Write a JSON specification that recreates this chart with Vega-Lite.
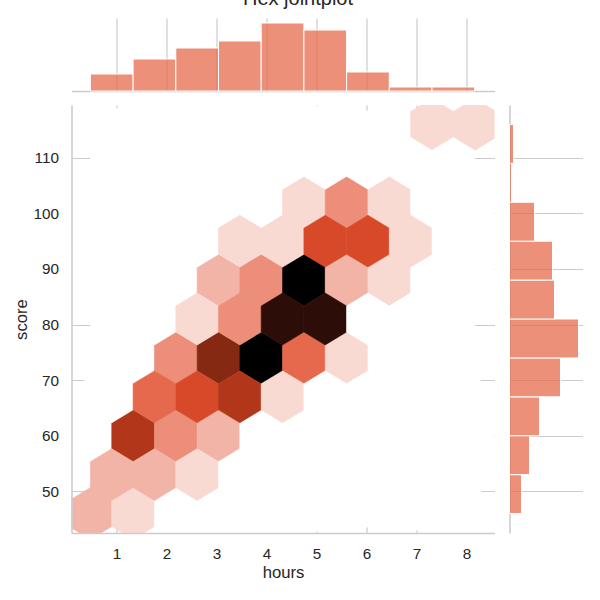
{
  "$schema": "https://vega.github.io/schema/vega-lite/v6.json",
  "padding": {"left": 12.5, "top": -11, "right": 0, "bottom": 0},
  "title": {"text": "Hex jointplot", "anchor": "middle", "frame": "bounds", "offset": 9},
  "columns": 2,
  "align": "each",
  "spacing": {"row": 13, "column": 14},
  "datasets": {
    "hexes": [
      {"hours": 0.478, "score": 46, "count": 2}, {"hours": 1.332, "score": 46, "count": 1}, {"hours": 2.186, "score": 46, "count": 0}, {"hours": 3.040, "score": 46, "count": 0}, {"hours": 3.894, "score": 46, "count": 0},
      {"hours": 4.748, "score": 46, "count": 0}, {"hours": 5.602, "score": 46, "count": 0}, {"hours": 6.456, "score": 46, "count": 0}, {"hours": 7.310, "score": 46, "count": 0}, {"hours": 8.164, "score": 46, "count": 0},
      {"hours": 0.478, "score": 60, "count": 0}, {"hours": 1.332, "score": 60, "count": 6}, {"hours": 2.186, "score": 60, "count": 3}, {"hours": 3.040, "score": 60, "count": 2}, {"hours": 3.894, "score": 60, "count": 0},
      {"hours": 4.748, "score": 60, "count": 0}, {"hours": 5.602, "score": 60, "count": 0}, {"hours": 6.456, "score": 60, "count": 0}, {"hours": 7.310, "score": 60, "count": 0}, {"hours": 8.164, "score": 60, "count": 0},
      {"hours": 0.478, "score": 74, "count": 0}, {"hours": 1.332, "score": 74, "count": 0}, {"hours": 2.186, "score": 74, "count": 3}, {"hours": 3.040, "score": 74, "count": 7}, {"hours": 3.894, "score": 74, "count": 10},
      {"hours": 4.748, "score": 74, "count": 4}, {"hours": 5.602, "score": 74, "count": 1}, {"hours": 6.456, "score": 74, "count": 0}, {"hours": 7.310, "score": 74, "count": 0}, {"hours": 8.164, "score": 74, "count": 0},
      {"hours": 0.478, "score": 88, "count": 0}, {"hours": 1.332, "score": 88, "count": 0}, {"hours": 2.186, "score": 88, "count": 0}, {"hours": 3.040, "score": 88, "count": 2}, {"hours": 3.894, "score": 88, "count": 3},
      {"hours": 4.748, "score": 88, "count": 10}, {"hours": 5.602, "score": 88, "count": 2}, {"hours": 6.456, "score": 88, "count": 1}, {"hours": 7.310, "score": 88, "count": 0}, {"hours": 8.164, "score": 88, "count": 0},
      {"hours": 0.478, "score": 102, "count": 0}, {"hours": 1.332, "score": 102, "count": 0}, {"hours": 2.186, "score": 102, "count": 0}, {"hours": 3.040, "score": 102, "count": 0}, {"hours": 3.894, "score": 102, "count": 0},
      {"hours": 4.748, "score": 102, "count": 1}, {"hours": 5.602, "score": 102, "count": 3}, {"hours": 6.456, "score": 102, "count": 1}, {"hours": 7.310, "score": 102, "count": 0}, {"hours": 8.164, "score": 102, "count": 0},
      {"hours": 0.478, "score": 116, "count": 0}, {"hours": 1.332, "score": 116, "count": 0}, {"hours": 2.186, "score": 116, "count": 0}, {"hours": 3.040, "score": 116, "count": 0}, {"hours": 3.894, "score": 116, "count": 0},
      {"hours": 4.748, "score": 116, "count": 0}, {"hours": 5.602, "score": 116, "count": 0}, {"hours": 6.456, "score": 116, "count": 0}, {"hours": 7.310, "score": 116, "count": 1}, {"hours": 8.164, "score": 116, "count": 1},
      {"hours": 0.905, "score": 53, "count": 2}, {"hours": 1.759, "score": 53, "count": 2}, {"hours": 2.613, "score": 53, "count": 1}, {"hours": 3.467, "score": 53, "count": 0}, {"hours": 4.321, "score": 53, "count": 0},
      {"hours": 5.175, "score": 53, "count": 0}, {"hours": 6.029, "score": 53, "count": 0}, {"hours": 6.883, "score": 53, "count": 0}, {"hours": 7.737, "score": 53, "count": 0},
      {"hours": 0.905, "score": 67, "count": 0}, {"hours": 1.759, "score": 67, "count": 4}, {"hours": 2.613, "score": 67, "count": 5}, {"hours": 3.467, "score": 67, "count": 6}, {"hours": 4.321, "score": 67, "count": 1},
      {"hours": 5.175, "score": 67, "count": 0}, {"hours": 6.029, "score": 67, "count": 0}, {"hours": 6.883, "score": 67, "count": 0}, {"hours": 7.737, "score": 67, "count": 0},
      {"hours": 0.905, "score": 81, "count": 0}, {"hours": 1.759, "score": 81, "count": 0}, {"hours": 2.613, "score": 81, "count": 1}, {"hours": 3.467, "score": 81, "count": 3}, {"hours": 4.321, "score": 81, "count": 9},
      {"hours": 5.175, "score": 81, "count": 9}, {"hours": 6.029, "score": 81, "count": 0}, {"hours": 6.883, "score": 81, "count": 0}, {"hours": 7.737, "score": 81, "count": 0},
      {"hours": 0.905, "score": 95, "count": 0}, {"hours": 1.759, "score": 95, "count": 0}, {"hours": 2.613, "score": 95, "count": 0}, {"hours": 3.467, "score": 95, "count": 1}, {"hours": 4.321, "score": 95, "count": 1},
      {"hours": 5.175, "score": 95, "count": 5}, {"hours": 6.029, "score": 95, "count": 5}, {"hours": 6.883, "score": 95, "count": 1}, {"hours": 7.737, "score": 95, "count": 0},
      {"hours": 0.905, "score": 109, "count": 0}, {"hours": 1.759, "score": 109, "count": 0}, {"hours": 2.613, "score": 109, "count": 0}, {"hours": 3.467, "score": 109, "count": 0}, {"hours": 4.321, "score": 109, "count": 0},
      {"hours": 5.175, "score": 109, "count": 0}, {"hours": 6.029, "score": 109, "count": 0}, {"hours": 6.883, "score": 109, "count": 0}, {"hours": 7.737, "score": 109, "count": 0}
    ],
    "xbins": [
      {"hours_start": 0.478, "hours_end": 1.332, "count": 17},
      {"hours_start": 1.332, "hours_end": 2.186, "count": 32},
      {"hours_start": 2.186, "hours_end": 3.040, "count": 43},
      {"hours_start": 3.040, "hours_end": 3.894, "count": 50},
      {"hours_start": 3.894, "hours_end": 4.748, "count": 68},
      {"hours_start": 4.748, "hours_end": 5.602, "count": 61},
      {"hours_start": 5.602, "hours_end": 6.456, "count": 19},
      {"hours_start": 6.456, "hours_end": 7.310, "count": 4},
      {"hours_start": 7.310, "hours_end": 8.164, "count": 4}
    ],
    "ybins": [
      {"score_start": 46, "score_end": 53, "count": 12},
      {"score_start": 53, "score_end": 60, "count": 20},
      {"score_start": 60, "score_end": 67, "count": 30},
      {"score_start": 67, "score_end": 74, "count": 51},
      {"score_start": 74, "score_end": 81, "count": 69},
      {"score_start": 81, "score_end": 88, "count": 45},
      {"score_start": 88, "score_end": 95, "count": 43},
      {"score_start": 95, "score_end": 102, "count": 25},
      {"score_start": 102, "score_end": 109, "count": 2},
      {"score_start": 109, "score_end": 116, "count": 4}
    ]
  },
  "concat": [
    {
      "width": 423,
      "height": 73,
      "data": {"name": "xbins"},
      "mark": {"type": "rect", "fill": "#e66b4c", "fillOpacity": 0.75, "stroke": "white", "strokeWidth": 1},
      "encoding": {
        "x": {
          "field": "hours_start",
          "type": "quantitative",
          "scale": {"domain": [0.1, 8.56], "nice": false, "zero": false},
          "axis": {"title": null, "labels": false, "values": [1, 2, 3, 4, 5, 6, 7, 8], "grid": true}
        },
        "x2": {"field": "hours_end"},
        "y": {"field": "count", "type": "quantitative", "scale": {"domain": [0, 73], "nice": false}, "axis": null},
        "y2": {"datum": 0}
      }
    },
    {
      "width": 10,
      "height": 10,
      "data": {"values": []},
      "mark": {"type": "point", "opacity": 0},
      "encoding": {}
    },
    {
      "width": 423,
      "height": 428,
      "data": {"name": "hexes"},
      "layer": [
        {
          "mark": {
            "type": "point",
            "shape": "M0,-1L0.8234,-0.5L0.8234,0.5L0,1L-0.8234,0.5L-0.8234,-0.5Z",
            "size": 2690,
            "filled": true,
            "opacity": 1,
            "strokeWidth": 0.6,
            "clip": true
          },
          "encoding": {
            "x": {
              "field": "hours",
              "type": "quantitative",
              "scale": {"domain": [0.1, 8.56], "nice": false, "zero": false},
              "axis": {"orient": "bottom", "title": "hours", "values": [1, 2, 3, 4, 5, 6, 7, 8], "grid": true, "domain": false, "labelPadding": 13, "titlePadding": 3}
            },
            "y": {
              "field": "score",
              "type": "quantitative",
              "scale": {"domain": [42.5, 119.5], "nice": false, "zero": false},
              "axis": {"orient": "left", "title": "score", "values": [50, 60, 70, 80, 90, 100, 110], "grid": true, "domain": false, "labelPadding": 13, "titlePadding": 2.5}
            },
            "fill": {
              "field": "count",
              "type": "quantitative",
              "scale": {
                "domain": [0, 0.909, 1.818, 2.727, 3.636, 4.545, 5.455, 6.364, 7.273, 8.182, 9.091, 10],
                "range": ["#ffffff", "#f9ddd6", "#f3bbae", "#ee9885", "#e8765d", "#e25434", "#cb3d1d", "#a23117", "#7a2511", "#51180c", "#290c06", "#000000"],
                "interpolate": "rgb"
              },
              "legend": null
            },
            "stroke": {
              "field": "count",
              "type": "quantitative",
              "scale": {
                "domain": [0, 0.909, 1.818, 2.727, 3.636, 4.545, 5.455, 6.364, 7.273, 8.182, 9.091, 10],
                "range": ["#ffffff", "#f9ddd6", "#f3bbae", "#ee9885", "#e8765d", "#e25434", "#cb3d1d", "#a23117", "#7a2511", "#51180c", "#290c06", "#000000"],
                "interpolate": "rgb"
              },
              "legend": null
            }
          }
        },
        {
          "mark": {"type": "point", "opacity": 0},
          "encoding": {
            "x": {
              "field": "hours",
              "type": "quantitative",
              "axis": {"orient": "bottom", "title": null, "labels": false, "grid": false, "domain": true, "zindex": 1}
            },
            "y": {
              "field": "score",
              "type": "quantitative",
              "axis": {"orient": "left", "title": null, "labels": false, "grid": false, "domain": true, "zindex": 1}
            }
          }
        }
      ],
      "resolve": {"axis": {"x": "independent", "y": "independent"}}
    },
    {
      "width": 73,
      "height": 428,
      "data": {"name": "ybins"},
      "mark": {"type": "rect", "fill": "#e66b4c", "fillOpacity": 0.75, "stroke": "white", "strokeWidth": 1},
      "encoding": {
        "y": {
          "field": "score_start",
          "type": "quantitative",
          "scale": {"domain": [42.5, 119.5], "nice": false, "zero": false},
          "axis": {"title": null, "labels": false, "values": [50, 60, 70, 80, 90, 100, 110], "grid": true}
        },
        "y2": {"field": "score_end"},
        "x": {"field": "count", "type": "quantitative", "scale": {"domain": [0, 73], "nice": false}, "axis": null},
        "x2": {"datum": 0}
      }
    }
  ],
  "config": {
    "view": {"stroke": null},
    "font": "Liberation Sans",
    "title": {"font": "Liberation Sans", "fontSize": 20, "fontWeight": "normal", "color": "#262626"},
    "axis": {
      "labelFont": "Liberation Sans",
      "titleFont": "Liberation Sans",
      "labelFontSize": 15.3,
      "titleFontSize": 16.7,
      "titleFontWeight": "normal",
      "labelColor": "#262626",
      "titleColor": "#262626",
      "ticks": false,
      "domainColor": "#cccccc",
      "domainWidth": 1.6,
      "gridColor": "#cccccc",
      "gridWidth": 1.2
    }
  }
}
